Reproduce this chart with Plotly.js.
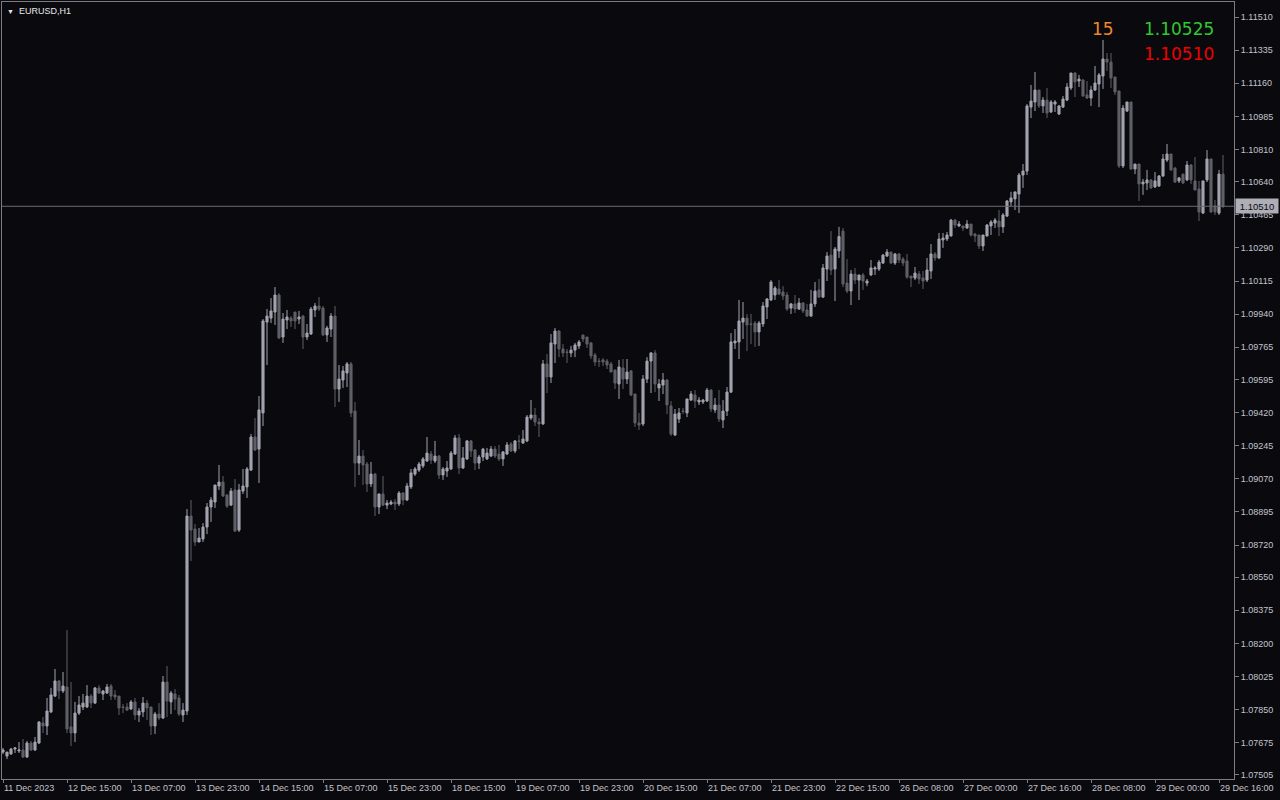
<!DOCTYPE html>
<html><head><meta charset="utf-8">
<script src="https://cdn.plot.ly/plotly-3.0.1.min.js"></script>
<style>html,body{margin:0;padding:0;background:#0a0a0e;}#chart{width:1280px;height:800px;}</style>
</head><body><div id="chart"></div>
<script>
const open = [1.07626,1.07605,1.07616,1.07642,1.07632,1.07637,1.07600,1.07674,1.07637,1.07674,
1.07780,1.07764,1.07838,1.07922,1.08002,1.07949,1.07970,1.07759,1.07727,1.07832,
1.07864,1.07864,1.07922,1.07885,1.07965,1.07933,1.07938,1.07975,1.07928,1.07922,
1.07864,1.07864,1.07854,1.07891,1.07822,1.07838,1.07885,1.07864,1.07764,1.07827,
1.07806,1.07996,1.07891,1.07933,1.07912,1.07822,1.07843,1.08873,1.08805,1.08736,
1.08752,1.08815,1.08921,1.08947,1.09032,1.09053,1.08984,1.08931,1.09011,1.08799,
1.09005,1.09027,1.09116,1.09291,1.09227,1.09418,1.09898,1.09919,1.09951,1.10041,
1.09819,1.09909,1.09919,1.09951,1.09914,1.09930,1.09819,1.09835,1.09962,1.09983,
1.09972,1.09830,1.09861,1.09930,1.09544,1.09592,1.09629,1.09677,1.09428,1.09153,
1.09190,1.09148,1.09043,1.09095,1.08921,1.08990,1.08931,1.08937,1.08947,1.08937,
1.08995,1.08958,1.09027,1.09095,1.09116,1.09138,1.09164,1.09201,1.09164,1.09190,
1.09090,1.09111,1.09122,1.09201,1.09286,1.09127,1.09175,1.09270,1.09222,1.09153,
1.09185,1.09175,1.09190,1.09227,1.09201,1.09175,1.09201,1.09254,1.09217,1.09270,
1.09259,1.09270,1.09391,1.09407,1.09370,1.09360,1.09677,1.09608,1.09782,1.09851,
1.09756,1.09740,1.09735,1.09750,1.09772,1.09830,1.09819,1.09788,1.09724,1.09692,
1.09698,1.09692,1.09677,1.09645,1.09571,1.09656,1.09597,1.09640,1.09518,1.09365,
1.09360,1.09597,1.09692,1.09735,1.09550,1.09565,1.09592,1.09455,1.09301,1.09386,
1.09428,1.09418,1.09486,1.09513,1.09476,1.09476,1.09481,1.09539,1.09434,1.09460,
1.09381,1.09428,1.09528,1.09788,1.09793,1.09898,1.09919,1.09888,1.09893,1.09846,
1.09888,1.09978,1.10015,1.10041,1.10073,1.10057,1.10041,1.09972,1.09994,1.09967,
1.09999,1.09962,1.09930,1.09994,1.10068,1.10030,1.10178,1.10252,1.10178,1.10274,
1.10379,1.10104,1.10062,1.10152,1.10120,1.10147,1.10104,1.10147,1.10178,1.10178,
1.10210,1.10247,1.10268,1.10210,1.10258,1.10231,1.10221,1.10141,1.10131,1.10152,
1.10131,1.10120,1.10168,1.10258,1.10237,1.10332,1.10337,1.10353,1.10437,1.10406,
1.10406,1.10395,1.10416,1.10363,1.10358,1.10300,1.10353,1.10406,1.10421,1.10432,
1.10401,1.10458,1.10533,1.10549,1.10575,1.10675,1.10696,1.11034,1.11061,1.11124,
1.11040,1.11071,1.11008,1.11050,1.10997,1.11034,1.11071,1.11135,1.11214,1.11172,
1.11177,1.11098,1.11082,1.11124,1.11156,1.11198,1.11288,1.11272,1.11193,1.11119,
1.10723,1.11013,1.11061,1.10707,1.10733,1.10628,1.10633,1.10649,1.10612,1.10617,
1.10670,1.10754,1.10786,1.10712,1.10644,1.10680,1.10649,1.10728,1.10644,1.10601,
1.10474,1.10649,1.10760,1.10511,1.10474,1.10680];
const high = [1.07648,1.07626,1.07648,1.07653,1.07679,1.07695,1.07685,1.07685,1.07706,1.07790,
1.07811,1.07912,1.07965,1.08065,1.08007,1.08049,1.08271,1.07996,1.07891,1.07922,
1.07933,1.07980,1.07933,1.07970,1.07980,1.07954,1.07986,1.07986,1.07954,1.07922,
1.07880,1.07885,1.07901,1.07912,1.07859,1.07917,1.07901,1.07864,1.07838,1.07885,
1.08028,1.08081,1.07949,1.07959,1.07928,1.07885,1.08910,1.08958,1.08831,1.08810,
1.08836,1.08942,1.08974,1.09037,1.09143,1.09085,1.08990,1.09021,1.09069,1.09043,
1.09122,1.09132,1.09307,1.09391,1.09507,1.09914,1.09967,1.10025,1.10083,1.10051,
1.09946,1.09962,1.09930,1.09951,1.09957,1.09935,1.09888,1.09978,1.09999,1.10030,
1.09983,1.09878,1.09946,1.09983,1.09671,1.09666,1.09687,1.09687,1.09476,1.09275,
1.09222,1.09159,1.09159,1.09101,1.08990,1.09085,1.08958,1.08958,1.08963,1.09005,
1.09000,1.09048,1.09122,1.09132,1.09159,1.09185,1.09291,1.09217,1.09270,1.09196,
1.09132,1.09164,1.09217,1.09301,1.09307,1.09238,1.09275,1.09275,1.09227,1.09196,
1.09233,1.09233,1.09243,1.09243,1.09249,1.09217,1.09264,1.09264,1.09275,1.09301,
1.09328,1.09407,1.09486,1.09444,1.09391,1.09698,1.09729,1.09835,1.09867,1.09856,
1.09782,1.09756,1.09772,1.09788,1.09803,1.09830,1.09819,1.09793,1.09735,1.09708,
1.09708,1.09703,1.09687,1.09645,1.09698,1.09703,1.09703,1.09645,1.09518,1.09418,
1.09618,1.09713,1.09740,1.09750,1.09597,1.09629,1.09597,1.09481,1.09439,1.09444,
1.09444,1.09492,1.09534,1.09539,1.09502,1.09492,1.09550,1.09544,1.09497,1.09539,
1.09486,1.09555,1.09840,1.09861,1.10015,1.10004,1.09941,1.09941,1.09904,1.09904,
1.10004,1.10025,1.10120,1.10088,1.10120,1.10088,1.10057,1.09999,1.10041,1.10025,
1.10004,1.09994,1.10068,1.10110,1.10126,1.10205,1.10268,1.10379,1.10295,1.10401,
1.10395,1.10231,1.10173,1.10184,1.10147,1.10157,1.10126,1.10226,1.10194,1.10226,
1.10258,1.10284,1.10268,1.10263,1.10263,1.10242,1.10258,1.10141,1.10189,1.10168,
1.10168,1.10237,1.10310,1.10268,1.10369,1.10369,1.10374,1.10443,1.10443,1.10432,
1.10406,1.10437,1.10416,1.10369,1.10358,1.10358,1.10416,1.10437,1.10448,1.10490,
1.10474,1.10543,1.10586,1.10586,1.10686,1.10733,1.11050,1.11151,1.11219,1.11124,
1.11087,1.11135,1.11071,1.11071,1.11045,1.11093,1.11161,1.11214,1.11219,1.11204,
1.11182,1.11172,1.11146,1.11251,1.11214,1.11389,1.11320,1.11320,1.11193,1.11119,
1.11045,1.11061,1.11061,1.10733,1.10733,1.10654,1.10702,1.10654,1.10691,1.10675,
1.10786,1.10839,1.10786,1.10717,1.10665,1.10680,1.10749,1.10733,1.10770,1.10644,
1.10644,1.10807,1.10760,1.10543,1.10702,1.10781];
const low = [1.07616,1.07589,1.07611,1.07621,1.07621,1.07595,1.07595,1.07632,1.07632,1.07669,
1.07727,1.07716,1.07832,1.07917,1.07906,1.07938,1.07727,1.07658,1.07679,1.07822,
1.07848,1.07859,1.07859,1.07880,1.07933,1.07901,1.07933,1.07901,1.07901,1.07822,
1.07832,1.07843,1.07848,1.07796,1.07785,1.07811,1.07796,1.07716,1.07722,1.07796,
1.07801,1.07811,1.07827,1.07848,1.07817,1.07785,1.07822,1.08636,1.08715,1.08736,
1.08736,1.08778,1.08842,1.08916,1.09011,1.08974,1.08916,1.08926,1.08789,1.08789,
1.08990,1.08969,1.09111,1.09217,1.09048,1.09349,1.09671,1.09893,1.09883,1.09809,
1.09788,1.09861,1.09872,1.09861,1.09888,1.09756,1.09803,1.09830,1.09925,1.09957,
1.09825,1.09793,1.09819,1.09449,1.09476,1.09550,1.09555,1.09396,1.09027,1.09090,
1.09037,1.09000,1.09027,1.08873,1.08884,1.08926,1.08910,1.08931,1.08905,1.08926,
1.08931,1.08953,1.09016,1.09085,1.09106,1.09127,1.09159,1.09148,1.09153,1.09069,
1.09064,1.09080,1.09116,1.09196,1.09095,1.09122,1.09169,1.09185,1.09116,1.09122,
1.09164,1.09169,1.09185,1.09180,1.09164,1.09138,1.09196,1.09212,1.09206,1.09227,
1.09254,1.09264,1.09381,1.09349,1.09291,1.09354,1.09523,1.09576,1.09682,1.09713,
1.09713,1.09682,1.09713,1.09713,1.09756,1.09793,1.09761,1.09703,1.09666,1.09661,
1.09666,1.09650,1.09634,1.09544,1.09492,1.09544,1.09571,1.09507,1.09344,1.09328,
1.09349,1.09576,1.09523,1.09528,1.09481,1.09518,1.09412,1.09296,1.09296,1.09365,
1.09412,1.09396,1.09481,1.09444,1.09460,1.09465,1.09476,1.09423,1.09418,1.09370,
1.09338,1.09402,1.09523,1.09756,1.09703,1.09809,1.09745,1.09782,1.09767,1.09772,
1.09872,1.09914,1.10009,1.10015,1.10041,1.10015,1.09957,1.09941,1.09946,1.09962,
1.09946,1.09925,1.09925,1.09978,1.10025,1.10025,1.10115,1.10147,1.10009,1.10237,
1.10083,1.10051,1.09988,1.10099,1.10015,1.10068,1.10088,1.10141,1.10147,1.10168,
1.10205,1.10242,1.10205,1.10200,1.10210,1.10194,1.10126,1.10083,1.10120,1.10099,
1.10073,1.10110,1.10126,1.10221,1.10231,1.10290,1.10326,1.10350,1.10395,1.10401,
1.10379,1.10390,1.10350,1.10321,1.10284,1.10274,1.10350,1.10358,1.10395,1.10353,
1.10369,1.10453,1.10511,1.10490,1.10474,1.10607,1.10675,1.10976,1.11013,1.11029,
1.11003,1.10976,1.11003,1.11008,1.10992,1.11029,1.11066,1.11124,1.11087,1.11140,
1.11087,1.11077,1.11040,1.11119,1.11034,1.11130,1.11225,1.11135,1.11098,1.10712,
1.10712,1.11008,1.10702,1.10680,1.10538,1.10570,1.10596,1.10601,1.10607,1.10612,
1.10665,1.10744,1.10696,1.10633,1.10633,1.10628,1.10644,1.10628,1.10596,1.10432,
1.10469,1.10638,1.10474,1.10464,1.10464,1.10501];
const close = [1.07637,1.07626,1.07642,1.07648,1.07637,1.07600,1.07674,1.07637,1.07679,1.07785,
1.07764,1.07843,1.07928,1.08002,1.07949,1.07975,1.07748,1.07727,1.07832,1.07875,
1.07885,1.07922,1.07885,1.07965,1.07938,1.07949,1.07970,1.07922,1.07917,1.07859,
1.07862,1.07848,1.07891,1.07822,1.07843,1.07885,1.07859,1.07764,1.07827,1.07806,
1.07996,1.07896,1.07938,1.07906,1.07827,1.07848,1.08873,1.08799,1.08736,1.08757,
1.08815,1.08921,1.08958,1.09037,1.09053,1.08979,1.08926,1.09005,1.08794,1.09011,
1.09032,1.09122,1.09291,1.09222,1.09434,1.09904,1.09930,1.09957,1.10041,1.09814,
1.09914,1.09925,1.09904,1.09904,1.09925,1.09819,1.09840,1.09967,1.09983,1.09967,
1.09830,1.09867,1.09930,1.09544,1.09597,1.09640,1.09677,1.09418,1.09153,1.09190,
1.09143,1.09043,1.09095,1.08921,1.08990,1.08931,1.08942,1.08947,1.08937,1.08995,
1.08958,1.09032,1.09101,1.09122,1.09148,1.09175,1.09206,1.09169,1.09190,1.09090,
1.09122,1.09127,1.09206,1.09286,1.09127,1.09180,1.09270,1.09217,1.09153,1.09185,
1.09227,1.09206,1.09227,1.09190,1.09175,1.09212,1.09249,1.09217,1.09270,1.09268,
1.09280,1.09396,1.09407,1.09370,1.09360,1.09677,1.09608,1.09788,1.09851,1.09756,
1.09735,1.09738,1.09750,1.09777,1.09793,1.09809,1.09782,1.09719,1.09687,1.09690,
1.09687,1.09671,1.09634,1.09576,1.09661,1.09597,1.09634,1.09513,1.09365,1.09354,
1.09597,1.09692,1.09735,1.09571,1.09571,1.09592,1.09460,1.09307,1.09412,1.09418,
1.09426,1.09492,1.09518,1.09481,1.09486,1.09486,1.09539,1.09439,1.09460,1.09386,
1.09428,1.09528,1.09793,1.09798,1.09904,1.09919,1.09883,1.09886,1.09846,1.09893,
1.09983,1.10020,1.10110,1.10078,1.10046,1.10036,1.09967,1.09994,1.09967,1.09999,
1.09957,1.09930,1.09994,1.10062,1.10030,1.10184,1.10247,1.10173,1.10284,1.10350,
1.10099,1.10062,1.10152,1.10120,1.10147,1.10115,1.10115,1.10184,1.10184,1.10215,
1.10252,1.10268,1.10210,1.10258,1.10226,1.10210,1.10136,1.10131,1.10157,1.10126,
1.10115,1.10173,1.10258,1.10237,1.10337,1.10342,1.10358,1.10437,1.10411,1.10416,
1.10395,1.10416,1.10358,1.10353,1.10300,1.10358,1.10411,1.10427,1.10437,1.10401,
1.10464,1.10538,1.10554,1.10586,1.10675,1.10696,1.11040,1.11066,1.11124,1.11040,
1.11071,1.11003,1.11061,1.11061,1.11040,1.11077,1.11140,1.11214,1.11167,1.11182,
1.11093,1.11082,1.11124,1.11161,1.11204,1.11288,1.11272,1.11188,1.11114,1.10723,
1.11029,1.11061,1.10707,1.10733,1.10628,1.10638,1.10649,1.10607,1.10644,1.10670,
1.10760,1.10786,1.10702,1.10638,1.10660,1.10633,1.10728,1.10649,1.10596,1.10480,
1.10644,1.10760,1.10480,1.10480,1.10680,1.10510];

const timeLabels = ["11 Dec 2023","12 Dec 15:00","13 Dec 07:00","13 Dec 23:00","14 Dec 15:00",
"15 Dec 07:00","15 Dec 23:00","18 Dec 15:00","19 Dec 07:00","19 Dec 23:00","20 Dec 15:00",
"21 Dec 07:00","21 Dec 23:00","22 Dec 15:00","26 Dec 08:00","27 Dec 00:00","27 Dec 16:00",
"28 Dec 08:00","29 Dec 00:00","29 Dec 16:00"];
const timeLabelBars = [0,16,32,48,64,80,96,112,128,144,160,176,192,208,224,240,256,272,288,304];
const priceTicks = ["1.11510","1.11335","1.11160","1.10985","1.10810","1.10640","1.10465",
"1.10290","1.10115","1.09940","1.09765","1.09595","1.09420","1.09245","1.09070","1.08895",
"1.08720","1.08550","1.08375","1.08200","1.08025","1.07850","1.07675","1.07505"];
const symbol = "EURUSD,H1";
const spreadPoints = "15";
const askPrice = "1.10525";
const bidPrice = "1.10510";
const lastPrice = 1.10510;

const bars = open.map((_, i) => i);
const bg = "#0a0a0e";
const axisCol = "#7c7c84";
const textCol = "#c4c4cc";
const bullCol = "#a2a2b0";
const bearCol = "#5f5f66";

const trace = {
  type: "candlestick",
  x: bars, open: open, high: high, low: low, close: close,
  increasing: {line: {color: bullCol, width: 1}, fillcolor: bullCol},
  decreasing: {line: {color: bearCol, width: 1}, fillcolor: bearCol},
  whiskerwidth: 0,
  hoverinfo: "skip",
  showlegend: false
};

const layout = {
  width: 1280, height: 800,
  paper_bgcolor: bg, plot_bgcolor: bg,
  margin: {l: 2, r: 46, t: 2, b: 21, pad: 0},
  boxgap: 0.25,
  showlegend: false,
  xaxis: {
    range: [-0.25, 307.75], rangeslider: {visible: false},
    showgrid: false, zeroline: false,
    showline: true, mirror: true, linecolor: axisCol, linewidth: 1,
    ticks: "outside", ticklen: 3, tickcolor: axisCol,
    tickvals: timeLabelBars, ticktext: timeLabels,
    ticklabelposition: "outside right",
    tickfont: {family: "Liberation Sans, Arial, sans-serif", size: 9, color: textCol},
    fixedrange: true
  },
  yaxis: {
    side: "right",
    range: [1.074838, 1.115893],
    showgrid: false, zeroline: false,
    showline: true, mirror: true, linecolor: axisCol, linewidth: 1,
    ticks: "outside", ticklen: 4, tickcolor: axisCol,
    tickvals: priceTicks.map(Number), ticktext: priceTicks,
    tickfont: {family: "Liberation Sans, Arial, sans-serif", size: 9, color: textCol},
    fixedrange: true
  },
  shapes: [{
    type: "line", xref: "paper", x0: 0, x1: 1, yref: "y", y0: lastPrice, y1: lastPrice,
    line: {color: "#6a6a72", width: 1}
  }],
  annotations: [
    {xref: "paper", yref: "y", x: 1, y: lastPrice, xanchor: "left", yanchor: "middle",
     xshift: 1, text: lastPrice.toFixed(5), showarrow: false, bgcolor: "#aeaeb6",
     width: 40, height: 12, align: "center",
     borderpad: 1, font: {family: "Liberation Sans, Arial, sans-serif", size: 9.5, color: "#0a0a0e"}},
    {xref: "paper", yref: "paper", x: 0, y: 1, xanchor: "left", yanchor: "top", xshift: 3, yshift: -2,
     text: '<span style="font-size:7px">▼</span>  ' + symbol, showarrow: false,
     font: {family: "Liberation Sans, Arial, sans-serif", size: 9, color: "#e6e6ea"}},
    {xref: "paper", yref: "paper", x: (1116 - 2) / 1232, y: 1 - 27 / 777, xanchor: "right", yanchor: "middle",
     text: spreadPoints, showarrow: false,
     font: {family: "DejaVu Sans, sans-serif", size: 17, color: "#f0882a"}},
    {xref: "paper", yref: "paper", x: (1216 - 2) / 1232, y: 1 - 27 / 777, xanchor: "right", yanchor: "middle",
     text: askPrice, showarrow: false,
     font: {family: "DejaVu Sans, sans-serif", size: 17, color: "#30c830"}},
    {xref: "paper", yref: "paper", x: (1216 - 2) / 1232, y: 1 - 52 / 777, xanchor: "right", yanchor: "middle",
     text: bidPrice, showarrow: false,
     font: {family: "DejaVu Sans, sans-serif", size: 17, color: "#f00000"}}
  ]
};

Plotly.newPlot("chart", [trace], layout, {displayModeBar: false, staticPlot: true});
</script>
</body></html>
